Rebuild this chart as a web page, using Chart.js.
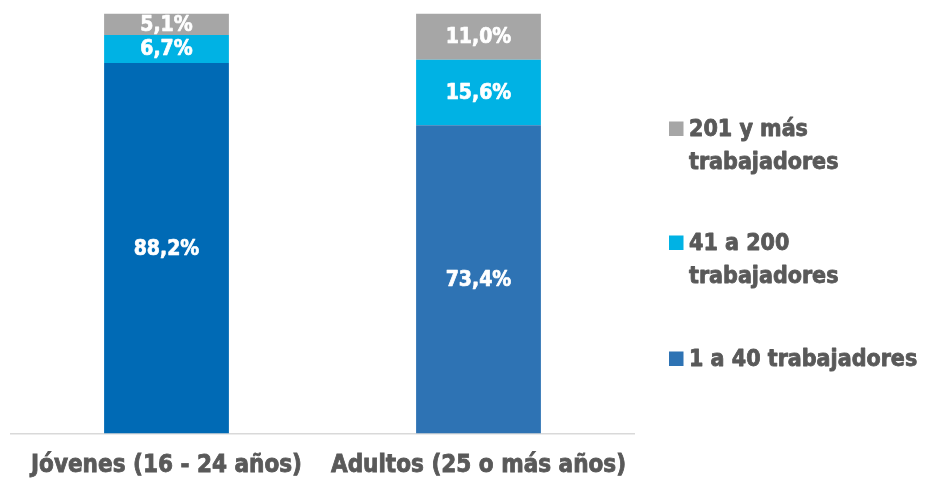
<!DOCTYPE html>
<html>
<head>
<meta charset="utf-8">
<script src="https://cdn.jsdelivr.net/npm/chart.js@4/dist/chart.umd.min.js"></script>
<style>
  html, body { margin: 0; padding: 0; background: #ffffff; }
  #wrap { width: 925px; height: 479px; }
</style>
</head>
<body>
<div id="wrap"><canvas id="c" width="925" height="479"></canvas></div>
<script>
// Distribución por tamaño de empresa (%)
const categories = ['Jóvenes (16 - 24 años)', 'Adultos (25 o más años)'];
const small  = [88.2, 73.4];   // 1 a 40 trabajadores
const medium = [6.7, 15.6];    // 41 a 200 trabajadores
const large  = [5.1, 11.0];    // 201 y más trabajadores
const seriesNames = [
  ['1 a 40 trabajadores'],
  ['41 a 200', 'trabajadores'],
  ['201 y más', 'trabajadores']
];

const FONT = '"DejaVu Sans Condensed", "DejaVu Sans", sans-serif';
const TEXT = '#595959';

const fmt = v => v.toFixed(1).replace('.', ',') + '%';

// White value labels centred in each stacked segment
const valueLabels = {
  id: 'valueLabels',
  afterDatasetsDraw(chart) {
    const ctx = chart.ctx;
    ctx.save();
    ctx.fillStyle = '#ffffff';
    ctx.strokeStyle = '#ffffff';
    ctx.lineWidth = 0.7;
    ctx.lineJoin = 'round';
    ctx.font = 'bold 21px ' + FONT;
    ctx.textAlign = 'center';
    ctx.textBaseline = 'middle';
    chart.data.datasets.forEach((ds, i) => {
      chart.getDatasetMeta(i).data.forEach((bar, j) => {
        const p = bar.getProps(['x', 'y', 'base'], true);
        const y = (p.y + p.base) / 2 + 1;
        ctx.strokeText(fmt(ds.data[j]), p.x, y);
        ctx.fillText(fmt(ds.data[j]), p.x, y);
      });
    });
    ctx.restore();
  }
};

// Legend on the right, top series first, with wrapped names
const sideLegend = {
  id: 'sideLegend',
  afterDraw(chart) {
    const ctx = chart.ctx;
    const baselines = [[136, 169], [250, 283], [366]];
    const order = [2, 1, 0];
    ctx.save();
    ctx.font = 'bold 23px ' + FONT;
    ctx.textAlign = 'left';
    ctx.textBaseline = 'alphabetic';
    ctx.lineWidth = 0.8;
    ctx.lineJoin = 'round';
    order.forEach((dsIndex, k) => {
      const ds = chart.data.datasets[dsIndex];
      const lines = seriesNames[dsIndex];
      const b = baselines[k];
      ctx.fillStyle = ds.legendColor;
      ctx.fillRect(669, b[0] - 14.5, 14.5, 14.5);
      ctx.fillStyle = TEXT;
      ctx.strokeStyle = TEXT;
      lines.forEach((t, li) => {
        ctx.strokeText(t, 689, b[li]);
        ctx.fillText(t, 689, b[li]);
      });
    });
    ctx.restore();
  }
};

new Chart(document.getElementById('c'), {
  type: 'bar',
  data: {
    labels: categories,
    datasets: [
      { label: seriesNames[0].join(' '), data: small,  backgroundColor: ['#006ab5', '#2e73b4'], legendColor: '#2e73b4' },
      { label: seriesNames[1].join(' '), data: medium, backgroundColor: '#00b2e4', legendColor: '#00b2e4' },
      { label: seriesNames[2].join(' '), data: large,  backgroundColor: '#a6a6a6', legendColor: '#a6a6a6' }
    ]
  },
  options: {
    responsive: false,
    animation: false,
    layout: { padding: { left: 10.5, right: 290.5, top: 13.5, bottom: -19.3 } },
    datasets: { bar: { categoryPercentage: 1.0, barPercentage: 0.4, borderWidth: 0 } },
    scales: {
      x: {
        stacked: true,
        grid: { display: false, drawTicks: false },
        border: { display: true, color: '#d9d9d9', width: 1.5 },
        ticks: {
          color: TEXT, font: { family: FONT, size: 24, weight: 'bold' }, padding: 18, maxRotation: 0,
          textStrokeColor: TEXT, textStrokeWidth: 0.8
        }
      },
      y: {
        stacked: true, display: false, min: 0, max: 100
      }
    },
    plugins: {
      legend: { display: false },
      tooltip: { enabled: false }
    }
  },
  plugins: [valueLabels, sideLegend]
});
</script>
</body>
</html>
